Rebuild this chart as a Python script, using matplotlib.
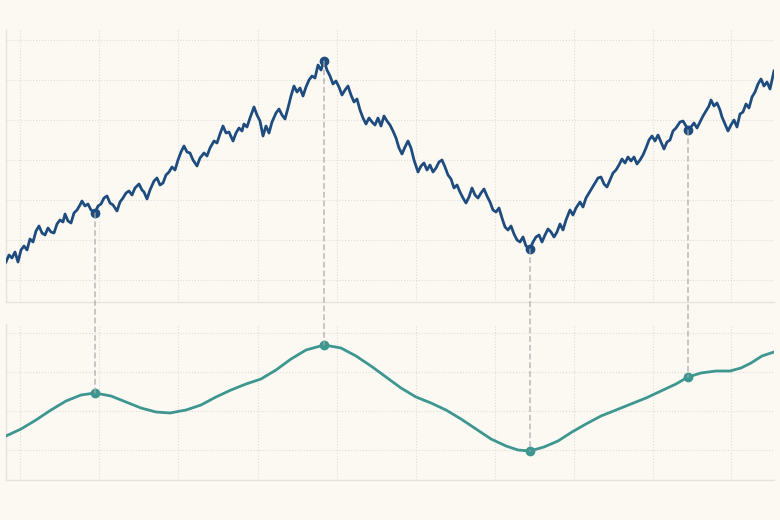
import matplotlib
matplotlib.use("Agg")
import matplotlib.pyplot as plt
from matplotlib.patches import ConnectionPatch

main_series = [(0,40),(3,47),(6,44),(9,50),(12,40),(15,52),(18,56),(21,52),(24,63),(27,60),(30,71),(33,76),(36,69),(39,67),(42,74),(45,70),(48,69),(51,78),(54,82),(57,80),(59,88),(62,81),(65,79),(68,89),(71,92),(74,97),(76,101),(79,96),(82,98),(85,92),(89,89),(92,96),(95,98),(98,104),(101,106),(104,99),(107,97),(111,91),(114,100),(117,104),(120,109),(123,111),(126,107),(129,114),(133,118),(136,112),(138,110),(141,103),(144,112),(148,121),(151,124),(154,117),(157,119),(160,127),(163,130),(166,135),(169,132),(172,142),(175,150),(178,156),(181,150),(184,149),(187,142),(191,136),(194,144),(198,149),(201,146),(204,154),(208,161),(211,159),(214,168),(217,176),(220,169),(223,170),(227,161),(230,169),(233,174),(236,171),(238,178),(241,175),(244,184),(248,195),(251,187),(254,181),(257,166),(260,176),(263,169),(266,180),(270,189),(273,193),(276,187),(279,183),(282,194),(285,206),(288,216),(291,210),(294,214),(297,206),(300,215),(303,222),(306,226),(309,224),(312,237),(315,232),(318,241),(321,232),(324,226),(327,218),(330,221),(333,215),(336,207),(339,212),(342,216),(345,207),(348,200),(351,203),(354,192),(357,184),(360,178),(363,184),(366,180),(369,177),(372,184),(375,176),(378,186),(381,181),(384,177),(387,171),(390,164),(393,154),(396,148),(399,155),(402,161),(405,154),(408,142),(412,130),(415,136),(418,139),(421,132),(424,137),(427,130),(430,134),(433,140),(436,142),(439,135),(442,127),(445,123),(448,114),(451,117),(454,110),(457,104),(460,99),(463,105),(466,114),(469,107),(472,104),(475,109),(478,113),(481,106),(484,100),(487,92),(490,90),(493,94),(496,84),(499,75),(502,72),(505,76),(508,68),(511,62),(514,60),(517,65),(520,56),(524,53),(527,60),(530,65),(533,67),(536,60),(539,67),(542,73),(545,70),(548,65),(551,70),(554,78),(557,72),(560,82),(564,92),(567,87),(570,94),(574,100),(577,95),(580,104),(583,109),(586,114),(589,119),(592,124),(595,125),(598,118),(601,115),(604,122),(607,129),(610,132),(613,137),(616,143),(619,139),(622,145),(625,141),(628,145),(631,138),(634,142),(637,147),(640,154),(643,162),(646,166),(649,161),(652,167),(655,160),(658,153),(661,160),(664,162),(667,171),(670,174),(674,180),(677,181),(680,176),(682,172),(685,175),(688,179),(691,174),(694,180),(697,186),(700,191),(703,196),(705,202),(708,196),(711,199),(714,192),(716,185),(719,178),(722,171),(725,177),(728,182),(731,175),(734,188),(737,190),(740,198),(743,194),(746,205),(749,210),(752,218),(755,223),(758,216),(761,220),(764,213),(766,222),(768,231)]

smooth_series = [(0,44),(15,51),(30,60),(45,70),(60,79),(75,85),(89,87),(105,84),(120,78),(135,72),(150,68),(164,67),(180,70),(195,75),(210,83),(225,90),(240,96),(255,101),(270,110),(285,121),(300,130),(318,135),(335,132),(350,124),(365,114),(380,103),(395,92),(410,83),(425,77),(440,70),(455,61),(470,51),(485,41),(500,34),(512,30),(524,29),(538,33),(552,39),(566,48),(580,56),(595,64),(610,70),(625,76),(640,82),(655,89),(670,96),(682,103),(695,107),(710,109),(724,109),(735,112),(745,117),(756,124),(768,128)]

marker_t = [89, 318, 524, 682]

top_t = [p[0] for p in main_series]
top_v = [p[1] for p in main_series]
bot_t = [p[0] for p in smooth_series]
bot_v = [p[1] for p in smooth_series]
top_lookup = dict(main_series)
bot_lookup = dict(smooth_series)

bg = "#fcf9f3"
c_top = "#1f4c7e"
c_bot = "#3d968f"

fig = plt.figure(figsize=(7.8, 5.2), dpi=100, facecolor=bg)
ax1 = fig.add_axes([6/780, 218/520, 768/780, 272/520], facecolor=bg)
ax2 = fig.add_axes([6/780, 40/520, 768/780, 156/520], facecolor=bg)

vgrid = [14, 93, 172, 252, 331, 410, 489, 568, 647, 725]
for ax, yl, yt in [(ax1, (0, 272), [22, 62, 102, 142, 182, 222, 262]),
                   (ax2, (0, 156), [30, 69, 108, 147])]:
    ax.set_xlim(0, 768)
    ax.set_ylim(*yl)
    ax.set_xticks(vgrid)
    ax.set_yticks(yt)
    ax.tick_params(length=0, labelleft=False, labelbottom=False)
    ax.grid(True, color="#dcdcdc", linestyle=":", linewidth=0.8)
    for s in ["top", "right"]:
        ax.spines[s].set_visible(False)
    for s in ["left", "bottom"]:
        ax.spines[s].set_color("#e6e3dd")
        ax.spines[s].set_linewidth(1.0)

ax1.plot(top_t, top_v, color=c_top, lw=2.0, zorder=3)
ax2.plot(bot_t, bot_v, color=c_bot, lw=2.0, zorder=3)

for t in marker_t:
    tv = top_lookup[t]
    bv = bot_lookup[t]
    ax1.plot([t], [tv], "o", color=c_top, ms=6, zorder=4)
    ax2.plot([t], [bv], "o", color=c_bot, ms=6, zorder=4)
    con = ConnectionPatch(xyA=(t, tv), coordsA=ax1.transData, xyB=(t, bv), coordsB=ax2.transData,
                          color="#aaaaaa", linestyle=(0, (4, 3)), linewidth=0.9, zorder=1)
    fig.add_artist(con)

fig.savefig("out.png", dpi=100, facecolor=bg)
